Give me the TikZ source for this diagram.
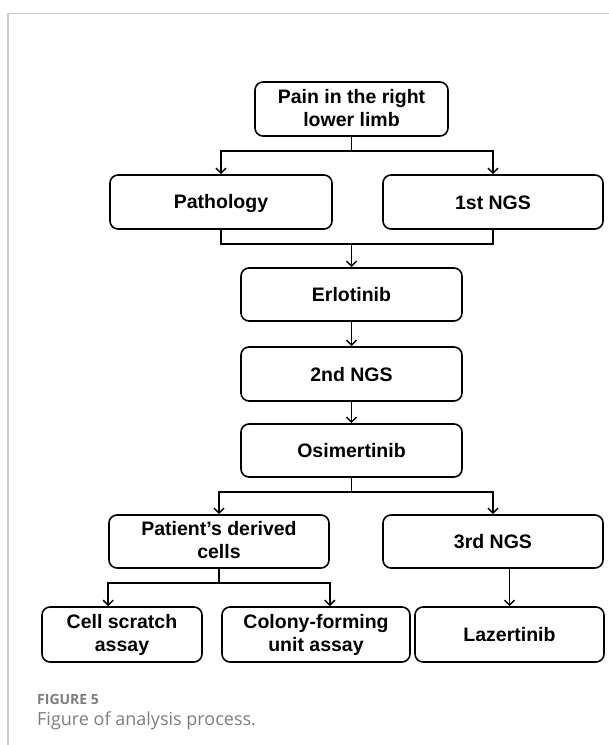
\documentclass[tikz,border=0pt]{standalone}
\usepackage{fontspec}
\setmainfont{Liberation Sans}
\newfontfamily\capfont{Open Sans}
\usetikzlibrary{calc,positioning,arrows.meta}
\definecolor{framegray}{RGB}{200,200,200}
\definecolor{capgray}{RGB}{125,125,125}
\newcommand\boxstrut{\rule[-3pt]{0pt}{20pt}}

\begin{document}
\begin{tikzpicture}[x=1pt,y=-1pt,
  procbox/.style={draw,line width=1.6pt,rounded corners=8pt,align=center,inner sep=0pt,
    minimum height=54pt,font=\fontsize{19.5}{23}\selectfont\bfseries,
    execute at begin node=\boxstrut,execute at end node=\boxstrut},
  flowline/.style={line width=1.5pt},
  flowarrow/.style={flowline,-{Straight Barb[length=5pt,width=10pt]}}]
\useasboundingbox (0,0) rectangle (609,745);
\draw[framegray,line width=1.2pt] (8,745) -- (8,13.5) -- (609,13.5);

\node[procbox,minimum width=193pt] (pain) at (351.5,109) {Pain in the right\\lower limb};
\node[procbox,minimum width=222pt] (patho) at (221,202) {Pathology};
\node[procbox,minimum width=220pt] (ngsone) at (493,202) {1st NGS};
\node[procbox,minimum width=221pt,minimum height=53pt] (erlo) at (351.5,294.5) {Erlotinib};
\node[procbox,minimum width=221pt] (ngstwo) at (351.5,374) {2nd NGS};
\node[procbox,minimum width=221pt,minimum height=53pt] (osim) at (351.5,450.5) {Osimertinib};
\node[procbox,minimum width=220pt,minimum height=53pt] (patient) at (219,541.5) {Patient’s derived\\cells};
\node[procbox,minimum width=220pt,minimum height=53pt] (ngsthree) at (493,541.5) {3rd NGS};
\node[procbox,minimum width=160pt,minimum height=55pt] (cell) at (122,634.5) {Cell scratch\\assay};
\node[procbox,minimum width=188pt,minimum height=55pt] (colony) at (316,634.5) {Colony-forming\\unit assay};
\node[procbox,minimum width=189pt,minimum height=55pt] (lazer) at (509.5,634.5) {Lazertinib};

\coordinate (j1) at (351.5,151);
\coordinate (j2) at (351.5,244);
\coordinate (j3) at (351.5,492);
\coordinate (j4) at (219,583);

\draw[flowarrow] (pain.south) -- (j1) -| (patho.north);
\draw[flowarrow] (j1) -| (ngsone.north);
\draw[flowline] (patho.south) |- (j2) -| (ngsone.south);
\draw[flowarrow] (j2) -- (erlo.north);
\draw[flowarrow] (erlo.south) -- (ngstwo.north);
\draw[flowarrow] (ngstwo.south) -- (osim.north);
\draw[flowarrow] (osim.south) -- (j3) -| (patient.north);
\draw[flowarrow] (j3) -| (ngsthree.north);
\draw[flowarrow] (patient.south) -- (j4) -| (cell.north -| patient.west);
\draw[flowarrow] (j4) -| (colony.north -| patient.east);
\draw[flowarrow] (lazer.north |- ngsthree.south) -- (lazer.north);

\node[anchor=west,inner sep=0pt,text=capgray,font=\capfont\fontsize{14}{16}\selectfont\bfseries] (fignum) at (37,699) {FIGURE 5};
\node[anchor=west,inner sep=0pt,text=capgray,font=\capfont\fontsize{18}{20}\selectfont] (figcap) at (37,721) {Figure of analysis process.};
\end{tikzpicture}
\end{document}
